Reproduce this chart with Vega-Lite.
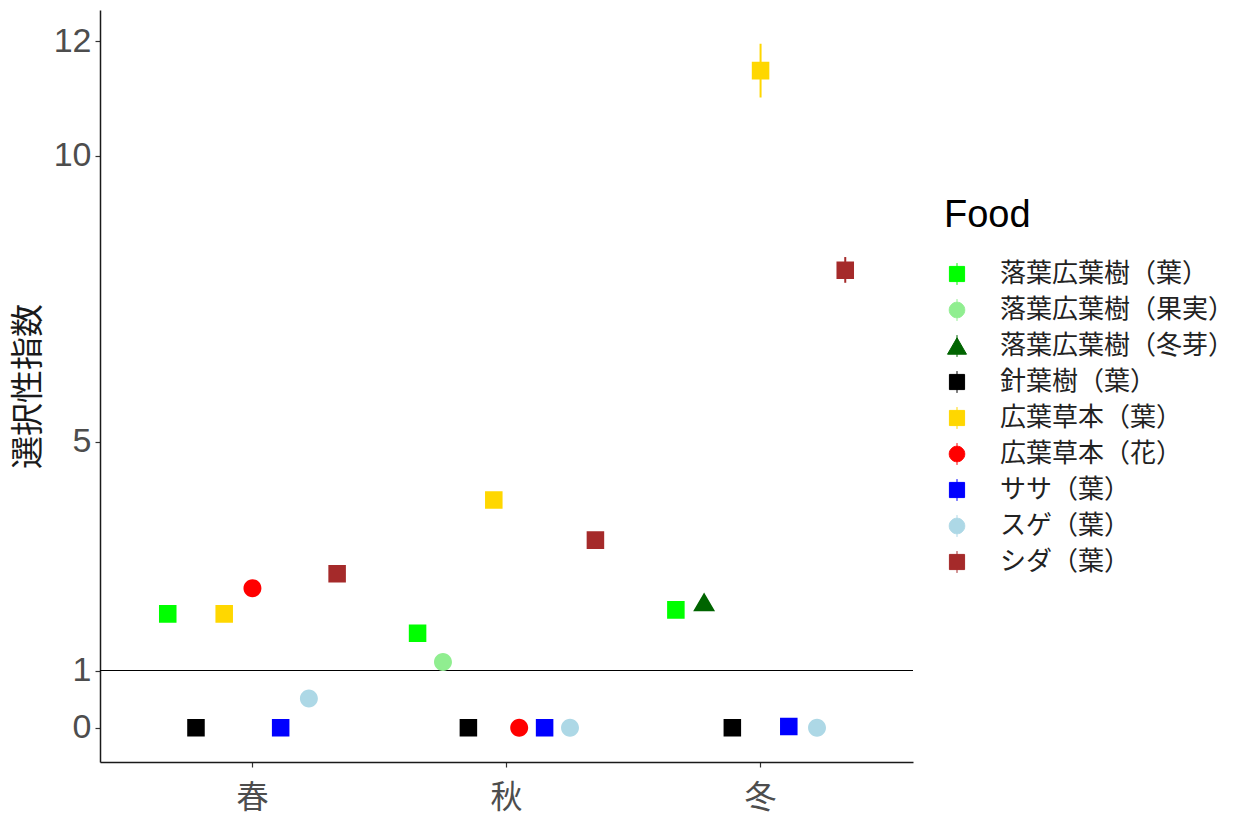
{
  "$schema": "https://vega.github.io/schema/vega-lite/v6.json",
  "width": 813,
  "height": 752,
  "autosize": {"type": "none"},
  "padding": {"left": 100, "top": 10, "right": 339, "bottom": 57},
  "background": "white",
  "config": {
    "view": {"stroke": null},
    "font": "Liberation Sans, Noto Sans CJK JP",
    "axisX": {"domainColor": "#1a1a1a", "domainWidth": 1.5, "tickColor": "#333333", "tickSize": 5, "tickWidth": 1.2, "labelFontSize": 32, "labelColor": "#4D4D4D", "labelPadding": 15, "labelAngle": 0, "labelFont": "Noto Sans CJK JP", "grid": false},
    "axisY": {"domainColor": "#1a1a1a", "domainWidth": 1.5, "tickColor": "#333333", "tickSize": 5, "tickWidth": 1.2, "labelFontSize": 34, "labelColor": "#4D4D4D", "labelPadding": 4, "labelFont": "Liberation Sans", "titleFontSize": 33, "titleFont": "Noto Sans CJK JP", "titleFontWeight": "normal", "titleColor": "#1a1a1a", "titlePadding": 8, "grid": false},
    "legend": {"orient": "none", "legendX": 844, "legendY": 187, "titleFontSize": 38, "titleFont": "Liberation Sans", "titleFontWeight": "normal", "titleColor": "black", "titlePadding": 26, "labelFontSize": 26, "labelFont": "Noto Sans CJK JP", "labelColor": "#222222", "labelOffset": 30, "labelLimit": 0, "symbolSize": 360, "rowPadding": 10}
  },
  "data": {"values": [
    {"Season": "春", "Food": "落葉広葉樹（葉）", "value": 1.99, "lo": 1.99, "hi": 1.99},
    {"Season": "春", "Food": "針葉樹（葉）", "value": 0, "lo": 0, "hi": 0},
    {"Season": "春", "Food": "広葉草本（葉）", "value": 1.99, "lo": 1.99, "hi": 1.99},
    {"Season": "春", "Food": "広葉草本（花）", "value": 2.44, "lo": 2.44, "hi": 2.44},
    {"Season": "春", "Food": "ササ（葉）", "value": 0, "lo": 0, "hi": 0},
    {"Season": "春", "Food": "スゲ（葉）", "value": 0.51, "lo": 0.51, "hi": 0.51},
    {"Season": "春", "Food": "シダ（葉）", "value": 2.69, "lo": 2.69, "hi": 2.69},
    {"Season": "秋", "Food": "落葉広葉樹（葉）", "value": 1.65, "lo": 1.65, "hi": 1.65},
    {"Season": "秋", "Food": "落葉広葉樹（果実）", "value": 1.15, "lo": 1.15, "hi": 1.15},
    {"Season": "秋", "Food": "針葉樹（葉）", "value": 0, "lo": 0, "hi": 0},
    {"Season": "秋", "Food": "広葉草本（葉）", "value": 3.98, "lo": 3.98, "hi": 3.98},
    {"Season": "秋", "Food": "広葉草本（花）", "value": 0, "lo": 0, "hi": 0},
    {"Season": "秋", "Food": "ササ（葉）", "value": 0, "lo": 0, "hi": 0},
    {"Season": "秋", "Food": "スゲ（葉）", "value": 0, "lo": 0, "hi": 0},
    {"Season": "秋", "Food": "シダ（葉）", "value": 3.28, "lo": 3.28, "hi": 3.28},
    {"Season": "冬", "Food": "落葉広葉樹（葉）", "value": 2.06, "lo": 2.06, "hi": 2.06},
    {"Season": "冬", "Food": "落葉広葉樹（冬芽）", "value": 2.2, "lo": 2.2, "hi": 2.2},
    {"Season": "冬", "Food": "針葉樹（葉）", "value": 0, "lo": 0, "hi": 0},
    {"Season": "冬", "Food": "広葉草本（葉）", "value": 11.49, "lo": 11.02, "hi": 11.96},
    {"Season": "冬", "Food": "ササ（葉）", "value": 0.02, "lo": 0.02, "hi": 0.02},
    {"Season": "冬", "Food": "スゲ（葉）", "value": 0, "lo": 0, "hi": 0},
    {"Season": "冬", "Food": "シダ（葉）", "value": 8.0, "lo": 7.78, "hi": 8.23}
  ]},
  "resolve": {"scale": {"xOffset": "independent"}},
  "layer": [
    {
      "mark": {"type": "rule", "color": "black", "strokeWidth": 1},
      "encoding": {"y": {"datum": 1, "type": "quantitative", "scale": {"domain": [-0.6, 12.55], "nice": false, "zero": false}}}
    },
    {
      "transform": [{"filter": "datum.Season === '春'"}],
      "encoding": {
        "x": {"field": "Season", "type": "nominal", "title": null, "sort": null, "scale": {"domain": ["春", "秋", "冬"], "paddingInner": 0, "paddingOuter": 0.1}},
        "xOffset": {"field": "Food", "type": "nominal", "scale": {"domain": ["落葉広葉樹（葉）", "針葉樹（葉）", "広葉草本（葉）", "広葉草本（花）", "ササ（葉）", "スゲ（葉）", "シダ（葉）"], "paddingInner": 0, "paddingOuter": 1.1667}},
        "y": {"field": "value", "type": "quantitative", "title": "選択性指数", "scale": {"domain": [-0.6, 12.55], "nice": false, "zero": false}, "axis": {"values": [0, 1, 5, 10, 12], "format": "d"}},
        "color": {"field": "Food", "type": "nominal", "title": "Food", "scale": {"domain": ["落葉広葉樹（葉）", "落葉広葉樹（果実）", "落葉広葉樹（冬芽）", "針葉樹（葉）", "広葉草本（葉）", "広葉草本（花）", "ササ（葉）", "スゲ（葉）", "シダ（葉）"], "range": ["#00FF00", "#90EE90", "#006400", "#000000", "#FFD700", "#FF0000", "#0000FF", "#ADD8E6", "#A52A2A"]},
          "legend": {"encode": {"symbols": {"update": {"stroke": {"scale": "color", "field": "value"}, "strokeWidth": {"value": 1}}}}}}
      },
      "layer": [
        {"mark": {"type": "rule", "strokeWidth": 2}, "encoding": {"y": {"field": "lo", "type": "quantitative"}, "y2": {"field": "hi"}}},
        {"mark": {"type": "point", "filled": true, "opacity": 1, "size": 480},
         "encoding": {"shape": {"field": "Food", "type": "nominal", "title": "Food", "scale": {"domain": ["落葉広葉樹（葉）", "落葉広葉樹（果実）", "落葉広葉樹（冬芽）", "針葉樹（葉）", "広葉草本（葉）", "広葉草本（花）", "ササ（葉）", "スゲ（葉）", "シダ（葉）"], "range": ["M-0.8,-0.8H0.8V0.8H-0.8Z M0,-1.15V1.15", "M0.82,0A0.82,0.82 0 1,1 -0.82,0A0.82,0.82 0 1,1 0.82,0Z M0,-1.15V1.15", "M0,-0.866L1,0.866L-1,0.866Z M0,-1.15V1.15", "M-0.8,-0.8H0.8V0.8H-0.8Z M0,-1.15V1.15", "M-0.8,-0.8H0.8V0.8H-0.8Z M0,-1.15V1.15", "M0.82,0A0.82,0.82 0 1,1 -0.82,0A0.82,0.82 0 1,1 0.82,0Z M0,-1.15V1.15", "M-0.8,-0.8H0.8V0.8H-0.8Z M0,-1.15V1.15", "M0.82,0A0.82,0.82 0 1,1 -0.82,0A0.82,0.82 0 1,1 0.82,0Z M0,-1.15V1.15", "M-0.8,-0.8H0.8V0.8H-0.8Z M0,-1.15V1.15"]}}}}
      ]
    },
    {
      "transform": [{"filter": "datum.Season === '秋'"}],
      "encoding": {
        "x": {"field": "Season", "type": "nominal", "title": null, "sort": null},
        "xOffset": {"field": "Food", "type": "nominal", "scale": {"domain": ["落葉広葉樹（葉）", "落葉広葉樹（果実）", "針葉樹（葉）", "広葉草本（葉）", "広葉草本（花）", "ササ（葉）", "スゲ（葉）", "シダ（葉）"], "paddingInner": 0, "paddingOuter": 1.3333}},
        "y": {"field": "value", "type": "quantitative", "title": "選択性指数"},
        "color": {"field": "Food", "type": "nominal", "title": "Food"}
      },
      "layer": [
        {"mark": {"type": "rule", "strokeWidth": 2}, "encoding": {"y": {"field": "lo", "type": "quantitative"}, "y2": {"field": "hi"}}},
        {"mark": {"type": "point", "filled": true, "opacity": 1, "size": 480}, "encoding": {"shape": {"field": "Food", "type": "nominal", "title": "Food"}}}
      ]
    },
    {
      "transform": [{"filter": "datum.Season === '冬'"}],
      "encoding": {
        "x": {"field": "Season", "type": "nominal", "title": null, "sort": null},
        "xOffset": {"field": "Food", "type": "nominal", "scale": {"domain": ["落葉広葉樹（葉）", "落葉広葉樹（冬芽）", "針葉樹（葉）", "広葉草本（葉）", "ササ（葉）", "スゲ（葉）", "シダ（葉）"], "paddingInner": 0, "paddingOuter": 1.1667}},
        "y": {"field": "value", "type": "quantitative", "title": "選択性指数"},
        "color": {"field": "Food", "type": "nominal", "title": "Food"}
      },
      "layer": [
        {"mark": {"type": "rule", "strokeWidth": 2}, "encoding": {"y": {"field": "lo", "type": "quantitative"}, "y2": {"field": "hi"}}},
        {"mark": {"type": "point", "filled": true, "opacity": 1, "size": 480}, "encoding": {"shape": {"field": "Food", "type": "nominal", "title": "Food"}}}
      ]
    }
  ]
}
